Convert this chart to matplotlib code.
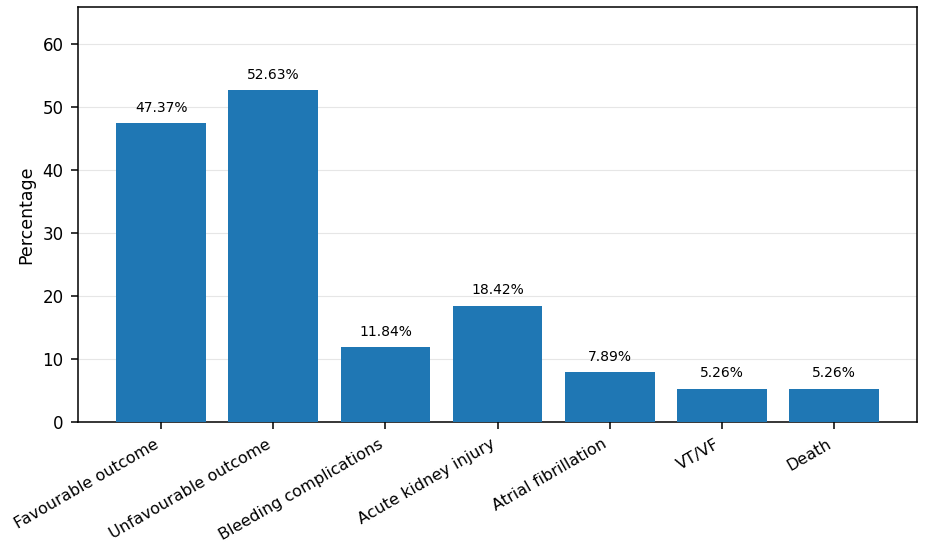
import matplotlib
matplotlib.use("Agg")
import matplotlib.pyplot as plt

categories = ["Favourable outcome", "Unfavourable outcome", "Bleeding complications",
              "Acute kidney injury", "Atrial fibrillation", "VT/VF", "Death"]
values = [47.37, 52.63, 11.84, 18.42, 7.89, 5.26, 5.26]

fig, ax = plt.subplots(figsize=(9.3, 5.53), dpi=100)
fig.subplots_adjust(left=0.084, right=0.986, top=0.987, bottom=0.237)

bars = ax.bar(categories, values, color="#1f77b4", width=0.8, zorder=3)
for b, v in zip(bars, values):
    ax.annotate(f"{v:.2f}%", (b.get_x() + b.get_width() / 2, v),
                xytext=(0, 6), textcoords="offset points",
                ha="center", va="bottom", fontsize=10)

ax.set_ylim(0, max(values) * 1.25)
ax.set_ylabel("Percentage", fontsize=12.5, labelpad=5)
ax.tick_params(axis="y", labelsize=12, length=5, pad=5.5, width=1.1)
ax.tick_params(axis="x", labelsize=11.5, length=5, pad=5.5, width=1.1)
plt.setp(ax.get_xticklabels(), rotation=30, ha="right")
for s in ax.spines.values():
    s.set_linewidth(1.1)
ax.yaxis.grid(True, color="#e6e6e6", linewidth=0.8, zorder=0)
ax.set_axisbelow(True)

fig.savefig("out.png", dpi=100)
